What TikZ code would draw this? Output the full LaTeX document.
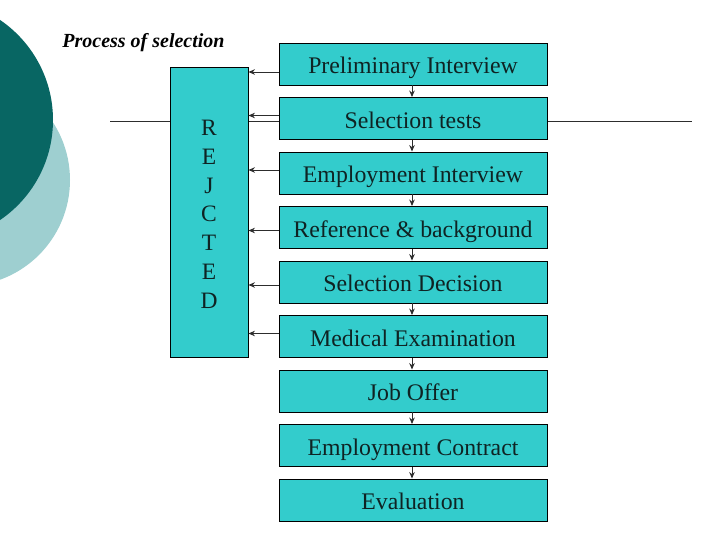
\documentclass[tikz,border=0pt]{standalone}
\usepackage{fontspec}
\setmainfont{Liberation Serif}
\usetikzlibrary{arrows.meta}
\definecolor{boxfill}{RGB}{51,204,204}
\definecolor{darkteal}{RGB}{8,102,99}
\definecolor{lightteal}{RGB}{158,207,208}
\definecolor{linegray}{RGB}{45,45,45}
\definecolor{textdark}{RGB}{15,35,35}
\tikzset{
  stagebox/.style={draw=black, line width=0.9pt, fill=boxfill, minimum width=268pt, minimum height=42pt, inner sep=0pt, text height=24pt, text depth=5pt, text=textdark, font=\fontsize{23.8}{28}\selectfont},
  rejbox/.style={draw=black, line width=0.9pt, fill=boxfill, minimum width=78pt, minimum height=290pt, inner sep=0pt},
  rejtext/.style={align=center, inner sep=0pt, text=textdark, font=\fontsize{23.5}{28.85}\selectfont},
  flow/.style={draw=linegray, line width=1pt, -{Stealth[length=6.5pt,width=5.5pt]}},
}
\begin{document}
\begin{tikzpicture}[x=1pt,y=-1pt]
\useasboundingbox (0,0) rectangle (728,546);
\begin{scope}
\clip (0,0) rectangle (728,546);
\fill[lightteal] (-36,180) circle (106);
\fill[darkteal] (-68,120) circle (121);
\end{scope}
\node[font=\fontsize{20}{24}\selectfont\bfseries\itshape] (title) at (143.5,43) {Process of selection};
\coordinate (hl) at (110,121);
\coordinate (hr) at (692,121);
\draw[linegray, line width=1pt] (hl) -- (hr);
\node[rejbox] (rej) at (209,212) {};
\node[rejtext] (rejlabel) at (209,214.3) {R\\E\\J\\C\\T\\E\\D};
\node[stagebox] (s1) at (413,64) {Preliminary Interview};
\node[stagebox] (s2) at (413,118.5) {Selection tests};
\node[stagebox] (s3) at (413,173) {Employment Interview};
\node[stagebox] (s4) at (413,227.5) {Reference \& background};
\node[stagebox] (s5) at (413,282) {Selection Decision};
\node[stagebox] (s6) at (413,336.5) {Medical Examination};
\node[stagebox] (s7) at (413,391) {Job Offer};
\node[stagebox] (s8) at (413,445.5) {Employment Contract};
\node[stagebox] (s9) at (413,500) {Evaluation};
\foreach \a/\b in {s1/s2,s2/s3,s3/s4,s4/s5,s5/s6,s6/s7,s7/s8,s8/s9}
  \draw[flow] ([xshift=-1pt]\a.south) -- ([xshift=-1pt]\b.north);
\foreach \s/\d in {s1/8,s2/-3,s3/-3,s4/3,s5/3,s6/-3}{
  \coordinate (r\s) at ([yshift=-\d pt]\s.west);
  \draw[flow] (r\s) -- (r\s -| rej.east);
}
\end{tikzpicture}
\end{document}
